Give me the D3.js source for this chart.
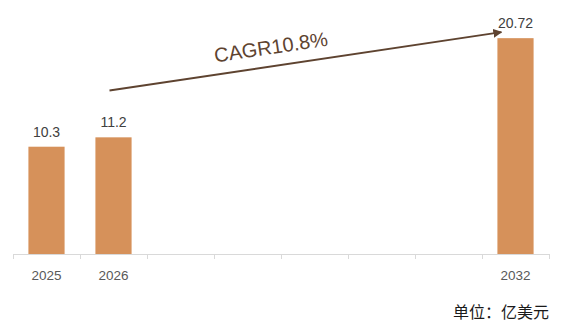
<!DOCTYPE html>
<html lang="zh">
<head>
  <meta charset="UTF-8">
  <title>CAGR bar chart</title>
  <style>
    html, body { margin: 0; padding: 0; background: #fff; }
    svg { display: block; }
    .val { font-family: "Liberation Sans", Arial, sans-serif; font-size: 14px; fill: #404040; }
    .tick-label { font-family: "Liberation Sans", Arial, sans-serif; font-size: 13.5px; fill: #595959; }
    .unit { font-family: "Noto Sans CJK SC", sans-serif; font-size: 16px; fill: #1a1a1a; }
    .cagr { font-family: "Liberation Sans", Arial, sans-serif; font-size: 20px; fill: #5e4330; }
  </style>
  <script src="https://d3js.org/d3.v7.min.js"></script>
</head>
<body>
<div id="chart"></div>
<script>
  // Data
  var years = ["2025", "2026", "2027", "2028", "2029", "2030", "2031", "2032"];
  var tickLabels = ["2025", "2026", "", "", "", "", "", "2032"];
  var values = [10.3, 11.2, null, null, null, null, null, 20.72];
  var cagrText = "CAGR10.8%";
  var unitText = "单位：亿美元";

  var width = 561, height = 322;
  var svg = d3.select("#chart").append("svg")
    .attr("width", width)
    .attr("height", height);

  // Scales
  var x = d3.scaleBand()
    .domain(years)
    .range([13, 549])
    .paddingInner(0.46)
    .paddingOuter(0.23);

  var y = d3.scaleLinear()
    .domain([0, 24])
    .range([254, 4]);

  var step = x.step();
  var x0 = x.range()[0];

  // Axis line and category separators
  svg.append("line")
    .attr("x1", x0).attr("x2", x.range()[1])
    .attr("y1", y(0) + 0.5).attr("y2", y(0) + 0.5)
    .attr("stroke", "#d9d9d9").attr("stroke-width", 1);

  svg.append("g").selectAll("line")
    .data(d3.range(years.length + 1))
    .enter().append("line")
    .attr("x1", i => Math.round(x0 + i * step) + 0.5)
    .attr("x2", i => Math.round(x0 + i * step) + 0.5)
    .attr("y1", y(0))
    .attr("y2", y(0) + 5)
    .attr("stroke", "#d9d9d9");

  // Bars
  var data = years.map((d, i) => ({ year: d, value: values[i], label: tickLabels[i] }));
  var withValue = data.filter(d => d.value != null);

  svg.append("g").selectAll("rect")
    .data(withValue)
    .enter().append("rect")
    .attr("x", d => x(d.year))
    .attr("y", d => y(d.value))
    .attr("width", x.bandwidth())
    .attr("height", d => y(0) - y(d.value))
    .attr("fill", "#d6915a");

  // Value labels
  svg.append("g").selectAll("text")
    .data(withValue)
    .enter().append("text")
    .attr("class", "val")
    .attr("x", d => x(d.year) + x.bandwidth() / 2)
    .attr("y", d => y(d.value) - 10)
    .attr("text-anchor", "middle")
    .text(d => d.value);

  // Category labels
  svg.append("g").selectAll("text")
    .data(data)
    .enter().append("text")
    .attr("class", "tick-label")
    .attr("x", d => x(d.year) + x.bandwidth() / 2)
    .attr("y", y(0) + 25.5)
    .attr("text-anchor", "middle")
    .text(d => d.label);

  // CAGR arrow
  svg.append("defs").append("marker")
    .attr("id", "arrow")
    .attr("viewBox", "0 0 10 10")
    .attr("refX", 9).attr("refY", 5)
    .attr("markerWidth", 4.5).attr("markerHeight", 4.5)
    .attr("orient", "auto")
    .append("path")
    .attr("d", "M0,0 L10,5 L0,10 z")
    .attr("fill", "#5e4330");

  var ax1 = x("2026") + x.bandwidth() / 2 - 4, ay1 = y(15.7);
  var ax2 = x("2032") + 4, ay2 = y(21.3);
  svg.append("line")
    .attr("x1", ax1).attr("y1", ay1)
    .attr("x2", ax2).attr("y2", ay2)
    .attr("stroke", "#5e4330")
    .attr("stroke-width", 2)
    .attr("marker-end", "url(#arrow)");

  var angle = Math.atan2(ay2 - ay1, ax2 - ax1) * 180 / Math.PI;
  svg.append("text")
    .attr("class", "cagr")
    .attr("transform", "translate(272,54) rotate(" + angle + ")")
    .attr("text-anchor", "middle")
    .text(cagrText);

  // Unit note
  svg.append("text")
    .attr("class", "unit")
    .attr("x", 549)
    .attr("y", 317.5)
    .attr("text-anchor", "end")
    .text(unitText);
</script>
</body>
</html>
